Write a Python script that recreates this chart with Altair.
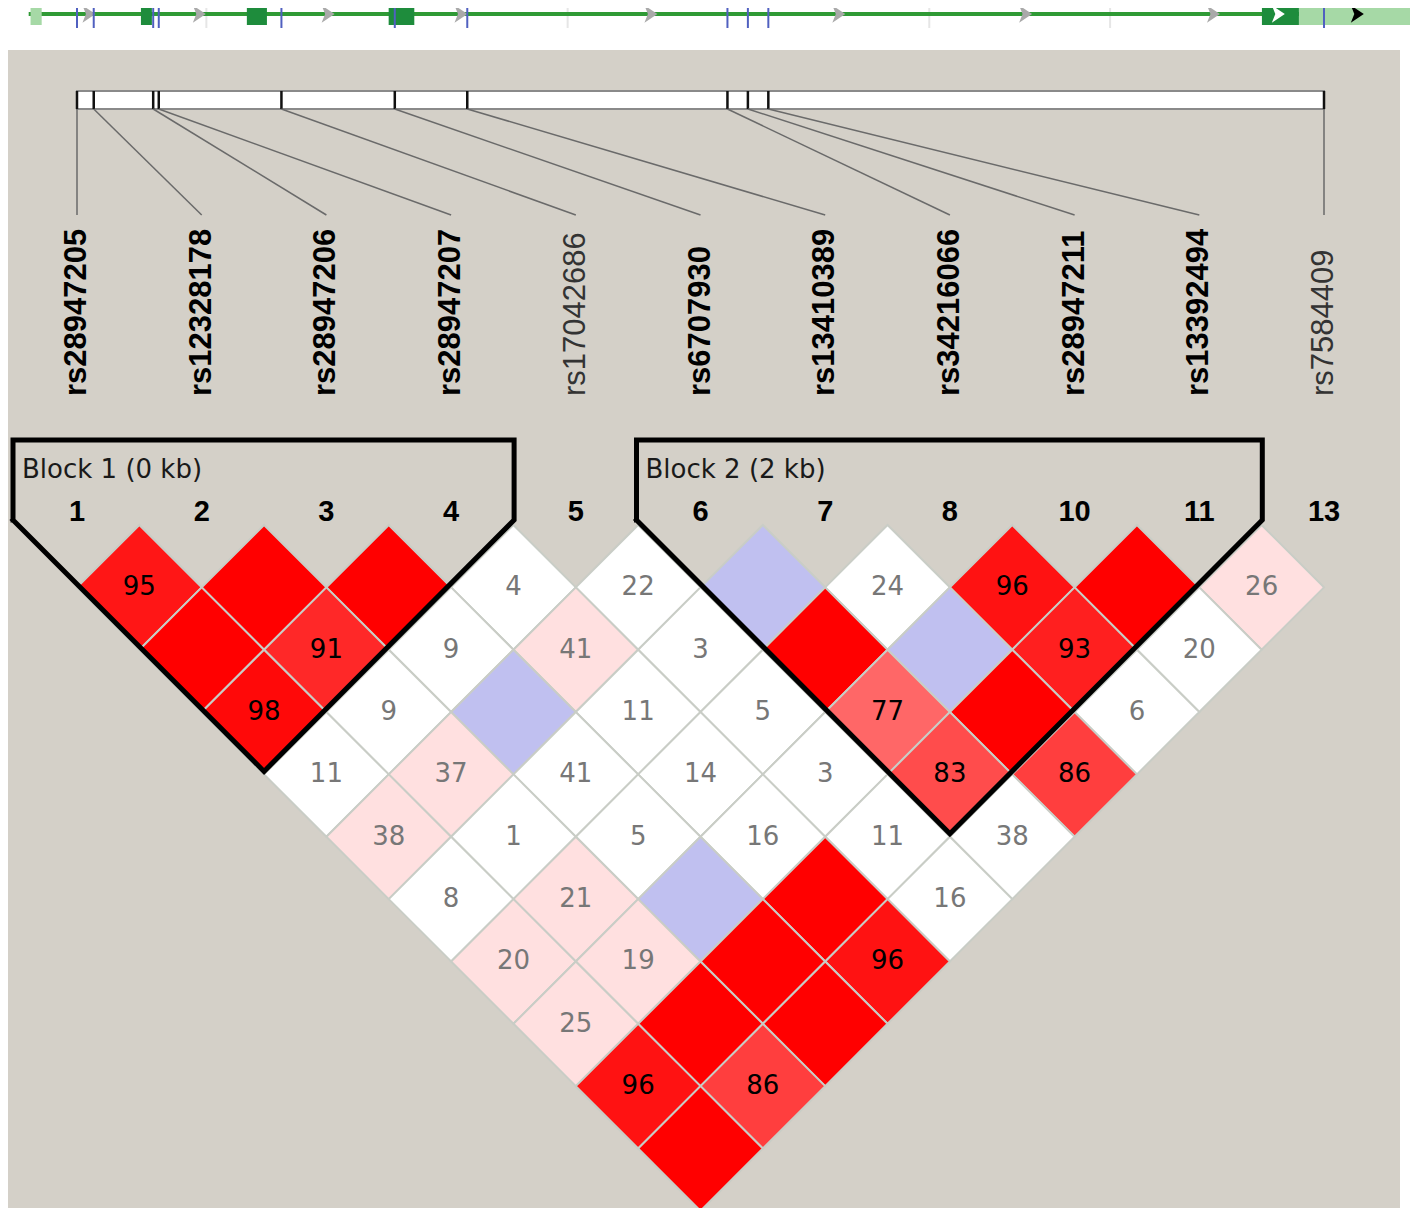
import altair as alt
import pandas as pd

# ---------------- data ----------------
snp_names = ["rs28947205", "rs12328178", "rs28947206", "rs28947207", "rs17042686",
             "rs6707930", "rs13410389", "rs34216066", "rs28947211", "rs13392494", "rs7584409"]
snp_numbers = ["1", "2", "3", "4", "5", "6", "7", "8", "10", "11", "13"]
snp_in_block = [True, True, True, True, False, True, True, True, True, True, False]
# physical position of each marker along the region (kb, relative to the first)
snp_pos_kb = [0.0, 0.09, 0.41, 0.44, 1.10, 1.71, 2.10, 3.50, 3.61, 3.72, 6.71]

# blocks: label, first marker index, last marker index
block_labels = ["Block 1 (0 kb)", "Block 2 (2 kb)"]
block_first = [0, 5]
block_last = [3, 9]

# pairwise D' (x100) by distance between markers;
# "R" = D'=1 & LOD>=2, "B" = D'=1 & LOD<2, "pNN" = LOD>=2, "wNN" = LOD<2
ld_rows = [
    ["p95", "R", "R", "w4", "w22", "B", "w24", "p96", "R", "p26"],
    ["R", "p91", "w9", "p41", "w3", "R", "B", "p93", "w20"],
    ["p98", "w9", "B", "w11", "w5", "p77", "R", "w6"],
    ["w11", "p37", "w41", "w14", "w3", "p83", "p86"],
    ["p38", "w1", "w5", "w16", "w11", "w38"],
    ["w8", "p21", "B", "R", "w16"],
    ["p20", "p19", "R", "p96"],
    ["p25", "R", "R"],
    ["p96", "p86"],
    ["R"],
]

# gene track features (kb, same axis as the markers)
gene_span_kb = [-0.26, 7.19]
utr_start_kb = [-0.25, 6.575]
utr_end_kb = [-0.19, 7.18]
exon_start_kb = [0.344, 0.914, 1.677, 6.376]
exon_end_kb = [0.403, 1.022, 1.815, 6.575]
intron_arrow_kb = [0.062, 0.656, 1.349, 2.064, 3.086, 4.097, 5.102, 6.113]
track_grid_kb = [0.696, 2.640, 4.586, 5.559]
white_arrow_kb = [6.462]
black_arrow_kb = [6.887]

# ---------------- layout (reference pixel frame) ----------------
X0, STEP = 77.0, 124.7
PX_PER_KB = STEP * 10 / snp_pos_kb[-1]
TRACK_Y, TRACK_TOP, TRACK_BOT, MARK_BOT = 14, 3, 25, 28
PANEL = dict(x=0, x2=1400, y=50, y2=1212)
BAR_TOP, BAR_BOT, CONNECT_END, LABEL_BASE = 91, 109, 215, 396
BLOCK_TOP, BLOCK_SHOULDER, BLOCK_LABEL_Y, NUM_Y, DIAMOND_TOP = 440, 520, 470, 512, 525

BG = "#d4d0c8"
XS = alt.Scale(domain=[8, 1410], nice=False, zero=False)
YS = alt.Scale(domain=[8, 1208], nice=False, zero=False, reverse=True)


def X(f="x"):
    return alt.X(f"{f}:Q", scale=XS, axis=None)


def Y(f="y"):
    return alt.Y(f"{f}:Q", scale=YS, axis=None)


def kb2x(kb):
    return X0 + kb * PX_PER_KB


col_x = [X0 + STEP * i for i in range(len(snp_names))]

snps = pd.DataFrame({
    "name": snp_names, "num": snp_numbers, "block": snp_in_block,
    "x": col_x, "tick": [kb2x(k) for k in snp_pos_kb],
})
snps["ytop"] = BAR_TOP
snps["ybot"] = BAR_BOT
snps["yend"] = CONNECT_END
snps["ylab"] = LABEL_BASE
snps["ynum"] = NUM_Y
snps["ttop"] = TRACK_TOP
snps["tbot"] = MARK_BOT

# cells
rows = []
for d, row in enumerate(ld_rows, start=1):
    for a, tok in enumerate(row):
        b = a + d
        kind = tok[0]
        val = int(tok[1:]) if len(tok) > 1 else 100
        if kind == "R":
            fill = "#ff0000"
        elif kind == "B":
            fill = "#c0c0f0"
        elif kind == "w":
            fill = "#ffffff"
        else:
            g = int(round(min(224, 223 * 2 * (1 - val / 100))))
            fill = "#ff%02x%02x" % (g, g)
        dark = kind == "p" and val >= 70
        rows.append({
            "x": (col_x[a] + col_x[b]) / 2,
            "y": DIAMOND_TOP + STEP / 2 * d,
            "fill": fill,
            "label": "" if val == 100 else str(val),
            "tcolor": "#000000" if dark else "#777777",
        })
cells = pd.DataFrame(rows)

# block outlines
poly = []
blab = []
for k, (lab, a, b) in enumerate(zip(block_labels, block_first, block_last)):
    xl, xr = col_x[a] - 64, col_x[b] + 63
    base = DIAMOND_TOP + STEP / 2 - 3
    pts = [(xl, BLOCK_SHOULDER), (xl, BLOCK_TOP), (xr, BLOCK_TOP), (xr, BLOCK_SHOULDER),
           ((col_x[a] + col_x[b]) / 2, base + (col_x[b] - col_x[a]) / 2),
           (xl, BLOCK_SHOULDER)]
    for o, (px, py) in enumerate(pts):
        poly.append({"blk": k, "o": o, "x": px, "y": py})
    blab.append({"label": lab, "x": xl + 9, "y": BLOCK_LABEL_Y})
poly = pd.DataFrame(poly)
blab = pd.DataFrame(blab)

# ---------------- layers ----------------
panel = alt.Chart(pd.DataFrame([PANEL])).mark_rect(color=BG).encode(
    x=X("x"), x2="x2", y=Y("y"), y2="y2")

track_line = alt.Chart(pd.DataFrame({"x": [kb2x(gene_span_kb[0])], "x2": [kb2x(gene_span_kb[1])],
                                     "y": [TRACK_Y]})).mark_rule(
    color="#2f9a35", strokeWidth=4).encode(x=X("x"), x2="x2", y=Y("y"))

track_grid = alt.Chart(pd.DataFrame({"x": [kb2x(k) for k in track_grid_kb],
                                     "y": TRACK_TOP, "y2": MARK_BOT})).mark_rule(
    color="#e6e6e6", strokeWidth=2).encode(x=X("x"), y=Y("y"), y2="y2")

utr = alt.Chart(pd.DataFrame({"x": [kb2x(k) for k in utr_start_kb], "x2": [kb2x(k) for k in utr_end_kb],
                              "y": TRACK_TOP, "y2": TRACK_BOT})).mark_rect(
    color="#a6d9a6").encode(x=X("x"), x2="x2", y=Y("y"), y2="y2")

exon = alt.Chart(pd.DataFrame({"x": [kb2x(k) for k in exon_start_kb], "x2": [kb2x(k) for k in exon_end_kb],
                               "y": TRACK_TOP, "y2": TRACK_BOT})).mark_rect(
    color="#1e8c3c").encode(x=X("x"), x2="x2", y=Y("y"), y2="y2")

chev = "M-0.7,-1L0.8,0L-0.7,1L-0.3,0Z"
arrows = alt.Chart(pd.DataFrame({"x": [kb2x(k) for k in intron_arrow_kb], "y": TRACK_Y})).mark_point(
    shape=chev, filled=True, size=300, color="#a9a9a9", opacity=1).encode(x=X("x"), y=Y("y"))
warrow = alt.Chart(pd.DataFrame({"x": [kb2x(k) for k in white_arrow_kb], "y": TRACK_Y})).mark_point(
    shape=chev, filled=True, size=300, color="#ffffff", opacity=1).encode(x=X("x"), y=Y("y"))
barrow = alt.Chart(pd.DataFrame({"x": [kb2x(k) for k in black_arrow_kb], "y": TRACK_Y})).mark_point(
    shape=chev, filled=True, size=300, color="#000000", opacity=1).encode(x=X("x"), y=Y("y"))

track_snps = alt.Chart(snps).mark_rule(color="#5060c0", strokeWidth=2).encode(
    x=X("tick"), y=Y("ttop"), y2="tbot")

bar = alt.Chart(pd.DataFrame({"x": [kb2x(snp_pos_kb[0])], "x2": [kb2x(snp_pos_kb[-1])],
                              "y": [BAR_TOP], "y2": [BAR_BOT]})).mark_rect(
    fill="#ffffff", stroke="#8a8a8a", strokeWidth=2).encode(x=X("x"), x2="x2", y=Y("y"), y2="y2")

bar_ticks = alt.Chart(snps).mark_rule(color="#111111", strokeWidth=2.5).encode(
    x=X("tick"), y=Y("ytop"), y2="ybot")

connectors = alt.Chart(snps).mark_rule(color="#6a6a6a", strokeWidth=1.5).encode(
    x=X("tick"), y=Y("ybot"), x2="x", y2="yend")

lab_bold = alt.Chart(snps).transform_filter("datum.block").mark_text(
    angle=270, align="left", baseline="middle", font="Liberation Sans", fontWeight="bold",
    fontSize=31, color="#000000").encode(x=X("x"), y=Y("ylab"), text="name:N")
lab_reg = alt.Chart(snps).transform_filter("!datum.block").mark_text(
    angle=270, align="left", baseline="middle", font="Liberation Sans", fontWeight="normal",
    fontSize=31, color="#333333").encode(x=X("x"), y=Y("ylab"), text="name:N")

nums = alt.Chart(snps).mark_text(
    align="center", baseline="middle", font="Liberation Sans", fontWeight="bold",
    fontSize=29, color="#000000").encode(x=X("x"), y=Y("ynum"), text="num:N")

diamonds = alt.Chart(cells).mark_point(
    shape="diamond", filled=True, size=STEP * STEP, opacity=1,
    stroke="#c9cdc6", strokeWidth=2).encode(
    x=X("x"), y=Y("y"), fill=alt.Fill("fill:N", scale=None))

cell_text = alt.Chart(cells).mark_text(
    align="center", baseline="middle", font="DejaVu Sans", fontSize=26).encode(
    x=X("x"), y=Y("y"), text="label:N", color=alt.Color("tcolor:N", scale=None))

outline = alt.Chart(poly).mark_line(
    color="#000000", strokeWidth=5, strokeJoin="miter", strokeCap="square").encode(
    x=X("x"), y=Y("y"), order="o:Q", detail="blk:N")

block_text = alt.Chart(blab).mark_text(
    align="left", baseline="middle", font="DejaVu Sans", fontSize=26, color="#1a1a1a").encode(
    x=X("x"), y=Y("y"), text="label:N")

chart = alt.layer(
    panel, track_grid, track_line, utr, exon, arrows, warrow, barrow, track_snps,
    bar, bar_ticks, connectors, lab_bold, lab_reg, nums,
    diamonds, cell_text, outline, block_text,
).properties(
    width=1402, height=1200,
    autosize=alt.AutoSizeParams(type="none"),
    padding=0, background="#ffffff",
).configure_view(stroke=None)

chart.save("out.html", embed_options={"renderer": "svg", "actions": False})
